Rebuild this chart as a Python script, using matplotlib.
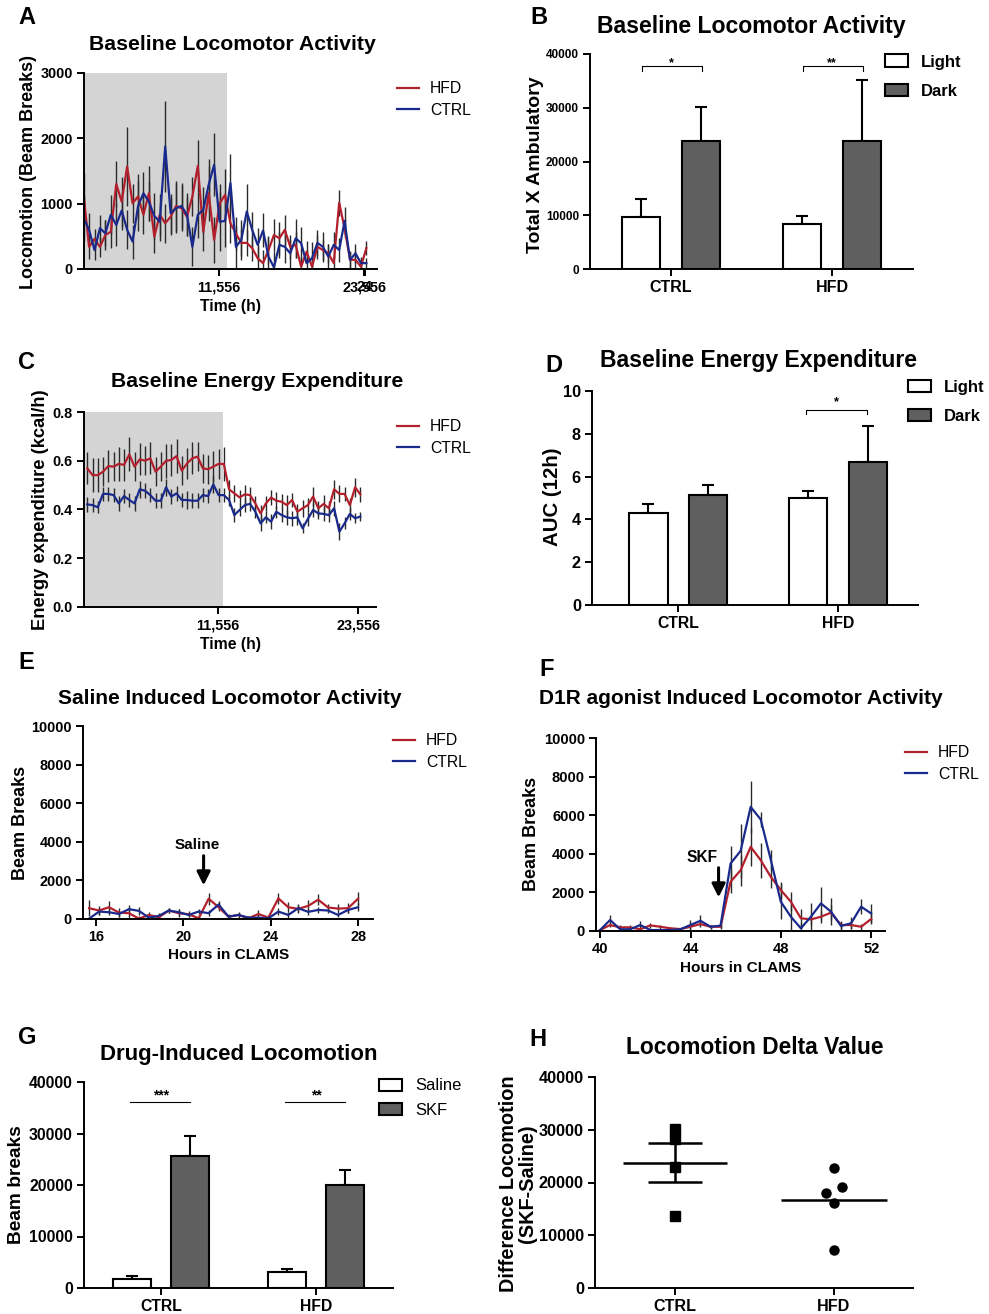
import matplotlib.pyplot as plt
import numpy as np
from matplotlib.patches import Patch
from matplotlib.lines import Line2D

plt.rcParams['font.family'] = ['Liberation Sans', 'DejaVu Sans']
plt.rcParams['font.weight'] = 'bold'
plt.rcParams['axes.linewidth'] = 1.4

RED = '#b3202d'
BLUE = '#1a2a8c'
DARK = '#5f5f5f'
SHADE = '#d4d4d4'

# ---------------- data ----------------
# A - baseline locomotion, beam breaks per bin
loc_time = 0.35 + 0.45 * np.arange(53)
hfd_loc = [1135, 340, 460, 340, 520, 570, 1300, 1030, 1570, 1005,
           1110, 830, 1160, 495, 830, 700, 800, 965, 930, 800,
           1110, 1580, 570, 1160, 445, 1000, 1135, 700, 545, 400,
           400, 320, 165, 90, 290, 520, 470, 600, 340, 370,
           35, 265, 35, 340, 290, 240, 90, 1015, 620, 140,
           140, 35, 320]
hfd_loc_err = [330, 180, 150, 150, 230, 250, 350, 380, 600, 300,
               350, 300, 420, 250, 320, 300, 280, 380, 350, 300,
               300, 400, 300, 420, 350, 300, 400, 300, 250, 200,
               200, 190, 180, 200, 220, 250, 250, 230, 180, 200,
               150, 160, 150, 180, 150, 150, 120, 200, 150, 120,
               130, 100, 110]
ctrl_loc = [780, 600, 290, 625, 545, 830, 675, 895, 600, 420,
            960, 1160, 1030, 810, 725, 1875, 855, 930, 965, 830,
            340, 830, 905, 1290, 1595, 725, 735, 1315, 340, 445,
            880, 600, 370, 590, 190, 25, 370, 340, 240, 470,
            395, 90, 165, 400, 340, 190, 370, 290, 735, 140,
            240, 90, 90]
ctrl_loc_err = [350, 250, 150, 200, 200, 300, 330, 300, 300, 260,
                380, 320, 300, 350, 300, 700, 300, 380, 350, 330,
                300, 350, 350, 400, 480, 450, 400, 450, 320, 300,
                420, 280, 250, 260, 300, 250, 200, 250, 220, 300,
                250, 200, 250, 200, 230, 200, 200, 180, 220, 130,
                150, 100, 80]

# C - baseline energy expenditure (kcal/h)
ee_time = 0.35 + 0.45 * np.arange(53)
hfd_ee = [0.569, 0.541, 0.541, 0.555, 0.578, 0.576, 0.587, 0.583, 0.626, 0.576,
          0.606, 0.600, 0.610, 0.555, 0.576, 0.600, 0.603, 0.619, 0.559, 0.589,
          0.610, 0.617, 0.569, 0.565, 0.576, 0.587, 0.587, 0.483, 0.466, 0.450,
          0.462, 0.459, 0.425, 0.384, 0.425, 0.449, 0.436, 0.432, 0.418, 0.439,
          0.391, 0.405, 0.418, 0.453, 0.405, 0.423, 0.405, 0.483, 0.464, 0.464,
          0.418, 0.491, 0.462]
hfd_ee_err = [0.065, 0.07, 0.07, 0.06, 0.065, 0.06, 0.07, 0.065, 0.07, 0.06,
              0.065, 0.06, 0.065, 0.06, 0.06, 0.07, 0.065, 0.07, 0.06, 0.065,
              0.065, 0.06, 0.06, 0.06, 0.065, 0.06, 0.07, 0.04, 0.035, 0.03,
              0.04, 0.035, 0.03, 0.035, 0.03, 0.03, 0.035, 0.03, 0.04, 0.03,
              0.03, 0.035, 0.03, 0.04, 0.03, 0.035, 0.03, 0.04, 0.035, 0.03,
              0.03, 0.04, 0.03]
ctrl_ee = [0.421, 0.418, 0.409, 0.464, 0.464, 0.459, 0.425, 0.455, 0.439, 0.425,
           0.483, 0.477, 0.459, 0.436, 0.436, 0.491, 0.453, 0.466, 0.439, 0.439,
           0.436, 0.436, 0.459, 0.455, 0.503, 0.459, 0.459, 0.439, 0.377, 0.398,
           0.418, 0.423, 0.391, 0.343, 0.368, 0.350, 0.391, 0.377, 0.368, 0.364,
           0.368, 0.323, 0.361, 0.398, 0.384, 0.382, 0.377, 0.405, 0.309, 0.343,
           0.382, 0.364, 0.371]
ctrl_ee_err = [0.03, 0.03, 0.025, 0.03, 0.03, 0.03, 0.03, 0.03, 0.03, 0.03,
               0.035, 0.03, 0.03, 0.03, 0.03, 0.035, 0.03, 0.03, 0.03, 0.035,
               0.03, 0.03, 0.03, 0.03, 0.035, 0.03, 0.03, 0.025, 0.03, 0.025,
               0.03, 0.03, 0.025, 0.03, 0.025, 0.03, 0.025, 0.03, 0.03, 0.03,
               0.03, 0.02, 0.03, 0.03, 0.025, 0.03, 0.03, 0.03, 0.035, 0.025,
               0.025, 0.02, 0.02]

# E - saline injection
sal_time = 15.7 + 0.455 * np.arange(28)
hfd_sal = [560, 440, 610, 330, 300, 20, 210, 90, 440, 300,
           245, 35, 1050, 610, 120, 210, 35, 260, 70, 1070,
           610, 525, 680, 1000, 595, 540, 560, 1050]
hfd_sal_err = [400, 250, 300, 250, 250, 150, 150, 200, 150, 200,
               150, 150, 300, 200, 150, 150, 100, 200, 150, 300,
               250, 200, 300, 300, 200, 250, 250, 350]
ctrl_sal = [20, 385, 350, 260, 510, 420, 70, 160, 440, 350,
            210, 385, 300, 750, 120, 210, 70, 70, 35, 385,
            210, 560, 370, 470, 440, 210, 470, 610]
ctrl_sal_err = [50, 200, 150, 150, 200, 200, 80, 100, 150, 150,
                100, 150, 150, 200, 80, 100, 80, 80, 50, 200,
                150, 200, 150, 150, 150, 100, 150, 200]
saline_time = 20.93

# F - SKF (D1R agonist) injection
skf_time = 40 + 0.444 * np.arange(28)
hfd_skf = [50, 310, 190, 190, 90, 290, 220, 140, 100, 220,
           360, 220, 220, 2550, 3150, 4360, 3670, 2810, 2120, 1520,
           660, 600, 740, 950, 310, 310, 220, 620]
hfd_skf_err = [60, 120, 100, 100, 80, 120, 100, 80, 80, 120,
               150, 100, 100, 600, 800, 1000, 900, 600, 400, 500,
               500, 300, 300, 400, 200, 200, 150, 250]
ctrl_skf = [50, 570, 90, 90, 310, 50, 50, 50, 90, 310,
            530, 220, 275, 3500, 4150, 6430, 5780, 3700, 1520, 740,
            140, 740, 1430, 1000, 260, 400, 1260, 910]
ctrl_skf_err = [60, 250, 80, 80, 200, 60, 60, 60, 80, 250,
                280, 100, 120, 900, 1400, 1350, 400, 500, 900, 700,
                300, 700, 850, 700, 200, 300, 400, 500]
skf_inj_time = 45.24

# bar panels
groups = ['CTRL', 'HFD']
light_amb = [9600, 8340]
light_amb_err = [3500, 1610]
dark_amb = [23760, 23890]
dark_amb_err = [6470, 11200]

light_auc = [4.28, 4.99]
light_auc_err = [0.42, 0.33]
dark_auc = [5.16, 6.66]
dark_auc_err = [0.44, 1.71]

saline_tot = [1750, 3120]
saline_tot_err = [520, 520]
skf_tot = [25650, 19940]
skf_tot_err = [3960, 2920]

# H - SKF minus saline per animal
ctrl_delta = [30170, 28160, 22990, 13670]
hfd_delta = [22680, 19210, 17950, 16190, 7240]
hfd_jitter = [0, 0.052, -0.052, 0, 0]

# ---------------- figure ----------------
W, H = 989, 1314
fig = plt.figure(figsize=(W / 100, H / 100), dpi=100)


def px_axes(l, t, r, b):
    return fig.add_axes([l / W, 1 - b / H, (r - l) / W, (b - t) / H])


def ftext(x, y, s, **kw):
    fig.text(x / W, 1 - y / H, s, **kw)


def gp_style(ax, fs):
    for s in ['top', 'right']:
        ax.spines[s].set_visible(False)
    ax.tick_params(direction='out', length=5, width=1.4, labelsize=fs, pad=3)
    for lab in ax.get_xticklabels() + ax.get_yticklabels():
        lab.set_fontweight('bold')


def line_legend(ax, x, y, fs=11.3):
    h = [Line2D([], [], color=RED, lw=1.6), Line2D([], [], color=BLUE, lw=1.6)]
    ax.legend(h, ['HFD', 'CTRL'], loc='upper left', bbox_to_anchor=(x / W, 1 - y / H),
              bbox_transform=fig.transFigure, frameon=False, borderpad=0, borderaxespad=0,
              handlelength=1.4, handletextpad=0.7, labelspacing=0.44,
              prop=dict(size=fs, weight='normal'))


def bar_legend(ax, labels, x, y, fs, weight, spacing):
    h = [Patch(facecolor='white', edgecolor='black', lw=1.5),
         Patch(facecolor=DARK, edgecolor='black', lw=1.5)]
    ax.legend(h, labels, loc='upper left', bbox_to_anchor=(x / W, 1 - y / H),
              bbox_transform=fig.transFigure, frameon=False, borderpad=0, borderaxespad=0,
              handlelength=1.38, handleheight=0.78, handletextpad=0.8, labelspacing=spacing,
              prop=dict(size=fs, weight=weight))


def time_panel(ax, t, hfd, hfd_err, ctrl, ctrl_err):
    ax.errorbar(t, hfd, yerr=hfd_err, fmt='none', ecolor='#2a2a2a', elinewidth=1.0, capsize=0)
    ax.errorbar(t, ctrl, yerr=ctrl_err, fmt='none', ecolor='#2a2a2a', elinewidth=1.0, capsize=0)
    ax.plot(t, hfd, color=RED, lw=1.6)
    ax.plot(t, ctrl, color=BLUE, lw=1.6)


def bar_panel(ax, a, a_err, b, b_err):
    x = np.arange(len(groups))
    off, w = 0.187, 0.24
    ax.bar(x - off, a, w, color='white', edgecolor='black', lw=1.5, zorder=2)
    ax.bar(x + off, b, w, color=DARK, edgecolor='black', lw=1.5, zorder=2)
    ax.errorbar(x - off, a, yerr=[np.zeros(2), a_err], fmt='none', ecolor='black',
                elinewidth=1.5, capsize=4.5, capthick=1.5, zorder=1)
    ax.errorbar(x + off, b, yerr=[np.zeros(2), b_err], fmt='none', ecolor='black',
                elinewidth=1.5, capsize=4.5, capthick=1.5, zorder=1)
    ax.set_xticks(x)
    ax.set_xticklabels(groups)


# ---- A ----
ax = px_axes(84, 73, 377, 269)
time_panel(ax, loc_time, hfd_loc, hfd_loc_err, ctrl_loc, ctrl_loc_err)
ax.set_xlim(0.38, 24.63)
ax.set_ylim(0, 3000)
ax.axvspan(0.38, 12.2, color=SHADE, lw=0, zorder=0)
ax.set_yticks([0, 1000, 2000, 3000])
ax.set_xticks([11.556, 23.556, 23.62])
ax.set_xticklabels(['11,556', '23,556', '24'])
gp_style(ax, 10.4)
line_legend(ax, 397, 81)
ftext(232, 50, 'Baseline Locomotor Activity', ha='center', va='baseline', fontsize=15.3)
ftext(29, 172, 'Locomotion (Beam Breaks)', rotation=90, ha='center', va='center', fontsize=13)
ftext(231, 306, 'Time (h)', ha='center', va='center', fontsize=11.3)

# ---- B ----
ax = px_axes(590, 54, 913, 269)
bar_panel(ax, light_amb, light_amb_err, dark_amb, dark_amb_err)
ax.set_xlim(-0.503, 1.503)
ax.set_ylim(0, 40000)
ax.set_yticks(range(0, 40001, 10000))
gp_style(ax, 8.5)
ax.tick_params(axis='x', labelsize=11.5)
for g, stars in zip([0, 1], ['*', '**']):
    ax.plot([g - 0.18, g - 0.18, g + 0.19, g + 0.19], [36760, 37700, 37700, 36760], color='black', lw=0.8)
    ax.text(g, 38300, stars, ha='center', va='center', fontsize=9)
bar_legend(ax, ['Light', 'Dark'], 885, 54.5, 12, 'bold', 0.86)
ftext(751, 33, 'Baseline Locomotor Activity', ha='center', va='baseline', fontsize=16.6)
ftext(536, 165, 'Total X Ambulatory', rotation=90, ha='center', va='center', fontsize=14)

# ---- C ----
ax = px_axes(84, 412, 376, 607)
time_panel(ax, ee_time, hfd_ee, hfd_ee_err, ctrl_ee, ctrl_ee_err)
ax.set_xlim(0.07, 25.09)
ax.set_ylim(0, 0.8)
ax.axvspan(0.07, 12.0, color=SHADE, lw=0, zorder=0)
ax.set_yticks([0, 0.2, 0.4, 0.6, 0.8])
ax.set_yticklabels(['0.0', '0.2', '0.4', '0.6', '0.8'])
ax.set_xticks([11.556, 23.556])
ax.set_xticklabels(['11,556', '23,556'])
gp_style(ax, 10.4)
line_legend(ax, 397, 419)
ftext(257, 387, 'Baseline Energy Expenditure', ha='center', va='baseline', fontsize=15.2)
ftext(41, 510, 'Energy expenditure (kcal/h)', rotation=90, ha='center', va='center', fontsize=13.2)
ftext(230, 645, 'Time (h)', ha='center', va='center', fontsize=11.3)

# ---- D ----
ax = px_axes(592, 391, 918, 605)
bar_panel(ax, light_auc, light_auc_err, dark_auc, dark_auc_err)
ax.set_xlim(-0.54, 1.5)
ax.set_ylim(0, 10)
ax.set_yticks(range(0, 11, 2))
gp_style(ax, 11.7)
ax.tick_params(axis='x', labelsize=11.3)
ax.plot([0.8, 0.8, 1.18, 1.18], [8.91, 9.13, 9.13, 8.91], color='black', lw=0.8)
ax.text(0.99, 9.5, '*', ha='center', va='center', fontsize=9)
bar_legend(ax, ['Light', 'Dark'], 908, 379.5, 12, 'bold', 0.85)
ftext(758, 367, 'Baseline Energy Expenditure', ha='center', va='baseline', fontsize=16.6)
ftext(552, 497, 'AUC (12h)', rotation=90, ha='center', va='center', fontsize=14.7)

# ---- E ----
ax = px_axes(83, 726, 373, 919)
time_panel(ax, sal_time, hfd_sal, hfd_sal_err, ctrl_sal, ctrl_sal_err)
ax.set_xlim(15.42, 28.67)
ax.set_ylim(0, 10000)
ax.set_xticks([16, 20, 24, 28])
ax.set_yticks(range(0, 10001, 2000))
gp_style(ax, 10.4)
ax.annotate('', xy=(saline_time, 1600), xytext=(saline_time, 3420),
            arrowprops=dict(arrowstyle='-|>', lw=2.2, color='black', mutation_scale=20))
ax.text(saline_time - 0.31, 3830, 'Saline', ha='center', va='center', fontsize=11)
line_legend(ax, 393, 733)
ftext(230, 704, 'Saline Induced Locomotor Activity', ha='center', va='baseline', fontsize=15)
ftext(21, 823, 'Beam Breaks', rotation=90, ha='center', va='center', fontsize=13)
ftext(229, 955, 'Hours in CLAMS', ha='center', va='center', fontsize=11.1)

# ---- F ----
ax = px_axes(596, 738, 885, 931)
time_panel(ax, skf_time, hfd_skf, hfd_skf_err, ctrl_skf, ctrl_skf_err)
ax.set_xlim(39.82, 52.6)
ax.set_ylim(0, 10000)
ax.set_xticks([40, 44, 48, 52])
ax.set_yticks(range(0, 10001, 2000))
gp_style(ax, 10.6)
ax.annotate('', xy=(skf_inj_time, 1600), xytext=(skf_inj_time, 3420),
            arrowprops=dict(arrowstyle='-|>', lw=2.2, color='black', mutation_scale=20))
ax.text(skf_inj_time - 0.71, 3830, 'SKF', ha='center', va='center', fontsize=11.2)
line_legend(ax, 905, 745)
ftext(741, 704, 'D1R agonist Induced Locomotor Activity', ha='center', va='baseline', fontsize=15)
ftext(532, 834, 'Beam Breaks', rotation=90, ha='center', va='center', fontsize=13)
ftext(741, 968, 'Hours in CLAMS', ha='center', va='center', fontsize=11.1)

# ---- G ----
ax = px_axes(84, 1082, 393, 1288)
bar_panel(ax, saline_tot, saline_tot_err, skf_tot, skf_tot_err)
ax.set_xlim(-0.497, 1.497)
ax.set_ylim(0, 40000)
ax.set_yticks(range(0, 40001, 10000))
gp_style(ax, 11.4)
ax.tick_params(axis='x', labelsize=11.3)
for g, stars in zip([0, 1], ['***', '**']):
    ax.plot([g - 0.2, g + 0.19], [36100, 36100], color='black', lw=0.8)
    ax.text(g, 37300, stars, ha='center', va='center', fontsize=10)
bar_legend(ax, ['Saline', 'SKF'], 379, 1078.5, 11.9, 'normal', 0.55)
ftext(239, 1060, 'Drug-Induced Locomotion', ha='center', va='baseline', fontsize=16)
ftext(17, 1185, 'Beam breaks', rotation=90, ha='center', va='center', fontsize=13.8)

# ---- H ----
ax = px_axes(595, 1077, 913, 1288)
ax.plot(np.zeros(len(ctrl_delta)), ctrl_delta, 's', color='black', ms=6.5)
ax.plot(1 + np.array(hfd_jitter), hfd_delta, 'o', color='black', ms=6.5)
m_c, m_h = np.mean(ctrl_delta), np.mean(hfd_delta)
sem_c = np.std(ctrl_delta, ddof=1) / np.sqrt(len(ctrl_delta))
ax.hlines(m_c, -0.33, 0.33, color='black', lw=1.8)
ax.hlines([m_c - sem_c, m_c + sem_c], -0.17, 0.17, color='black', lw=1.8)
ax.vlines(0, m_c - sem_c, m_c + sem_c, color='black', lw=1.8)
ax.hlines(m_h, 1 - 0.336, 1 + 0.336, color='black', lw=1.8)
ax.set_xlim(-0.503, 1.497)
ax.set_ylim(0, 40000)
ax.set_xticks([0, 1])
ax.set_xticklabels(groups)
ax.set_yticks(range(0, 40001, 10000))
gp_style(ax, 11.7)
ax.tick_params(axis='x', labelsize=11.6)
ftext(755, 1054, 'Locomotion Delta Value', ha='center', va='baseline', fontsize=16.4)
ftext(518, 1184, 'Difference Locomotion\n(SKF-Saline)', rotation=90, ha='center', va='center',
      fontsize=14.3, linespacing=1.0)

# panel letters
for lab, x, y in [('A', 18, 6), ('B', 530, 6), ('C', 18, 351), ('D', 545, 354),
                  ('E', 18, 651), ('F', 539, 658), ('G', 18, 1026), ('H', 529, 1028)]:
    ftext(x, y, lab, ha='left', va='top', fontsize=17)

fig.savefig('out.png', dpi=100)
